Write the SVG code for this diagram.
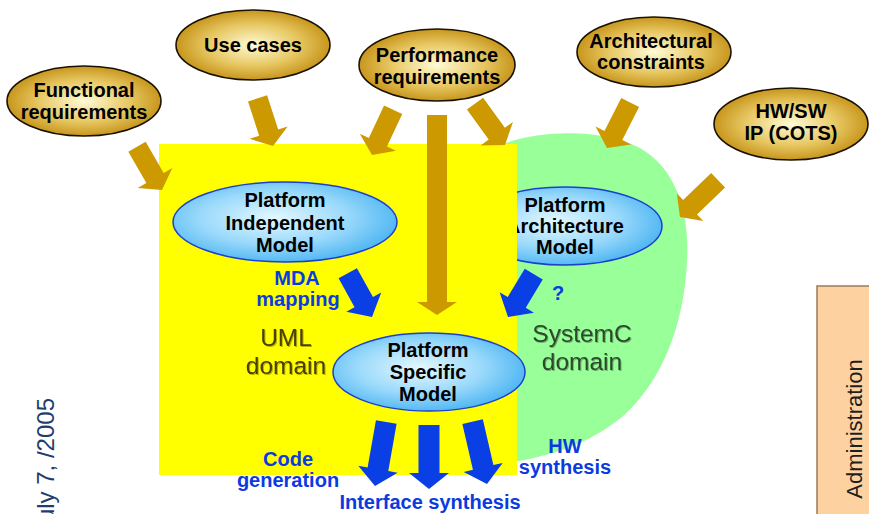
<svg xmlns="http://www.w3.org/2000/svg" width="869" height="514" viewBox="0 0 869 514">
  <defs>
    <radialGradient id="goldFill" cx="50%" cy="50%" r="55%">
      <stop offset="0" stop-color="#fffbd6"/>
      <stop offset="0.55" stop-color="#e6c660"/>
      <stop offset="1" stop-color="#c08a0c"/>
    </radialGradient>
    <radialGradient id="skyFill" cx="45%" cy="45%" r="55%">
      <stop offset="0" stop-color="#e4f8ff"/>
      <stop offset="0.6" stop-color="#9ad9fb"/>
      <stop offset="1" stop-color="#55b9f3"/>
    </radialGradient>
    <filter id="softShadow" x="-10%" y="-10%" width="120%" height="130%">
      <feDropShadow dx="1" dy="1" stdDeviation="0.6" flood-color="#000" flood-opacity="0.3"/>
    </filter>
  </defs>
  <style>
    .req { fill: url(#goldFill); stroke: #1a1200; stroke-width: 1.6; }
    .model { fill: url(#skyFill); stroke: #1c3fd0; stroke-width: 1.5; }
    .lbl { font-family: "Liberation Sans", Arial, sans-serif; font-weight: bold; font-size: 20px; text-anchor: middle; fill: #000; }
    .flow { font-family: "Liberation Sans", Arial, sans-serif; font-weight: bold; font-size: 20px; text-anchor: middle; fill: #0b3be0; }
    .dom { font-family: "Liberation Sans", Arial, sans-serif; font-size: 24.5px; text-anchor: middle; filter: url(#softShadow); }
    .tan { fill: #cc9900; }
    .blue { fill: #0a3fe6; }
  </style>

  <rect width="869" height="514" fill="#ffffff"/>

  <!-- SystemC domain region -->
  <g id="systemc-domain">
    <path d="M 500,145 C 540,130 600,128 640,148 C 675,168 690,210 687,262 C 684,325 662,382 622,417 C 587,445 550,457 500,464 Z" fill="#99ff99"/>
  </g>

  <!-- Platform Architecture Model (sits partly under the UML region) -->
  <g id="platform-architecture-model">
    <ellipse class="model" cx="565" cy="226" rx="97" ry="39"/>
    <text class="lbl" x="565" y="212">Platform<tspan x="565" dy="21">Architecture</tspan><tspan x="565" dy="21">Model</tspan></text>
  </g>

  <!-- UML domain region -->
  <g id="uml-domain">
    <rect x="159" y="144" width="358" height="331" fill="#ffff00"/>
  </g>

  <g id="domain-labels">
    <text class="dom" x="286" y="346" fill="#4a4000">UML<tspan x="286" dy="27.5">domain</tspan></text>
    <text class="dom" x="582" y="342" fill="#2c4a2c">SystemC<tspan x="582" dy="27.5">domain</tspan></text>
  </g>

  <g id="platform-independent-model">
    <ellipse class="model" cx="285" cy="222" rx="112" ry="40"/>
    <text class="lbl" x="285" y="207">Platform<tspan x="285" dy="22.5">Independent</tspan><tspan x="285" dy="22">Model</tspan></text>
  </g>

  <g id="platform-specific-model">
    <ellipse class="model" cx="429" cy="372" rx="96" ry="39"/>
    <text class="lbl" x="428" y="357">Platform<tspan x="428" dy="22">Specific</tspan><tspan x="428" dy="22">Model</tspan></text>
  </g>

  <!-- Block arrows: drawn pointing down with the tip at the origin, then placed -->
  <g id="connectors">
    <polygon class="tan" transform="translate(162,190) rotate(-30)" points="-10,-50 10,-50 10,-14 20,-14 0,0 -20,-14 -10,-14"/>
    <polygon class="tan" transform="translate(273,146) rotate(-18)" points="-10,-50 10,-50 10,-14 20,-14 0,0 -20,-14 -10,-14"/>
    <polygon class="tan" transform="translate(372,155) rotate(25)" points="-10,-50 10,-50 10,-14 20,-14 0,0 -20,-14 -10,-14"/>
    <polygon class="tan" transform="translate(437,315)" points="-10,-200 10,-200 10,-13 20,-13 0,0 -20,-13 -10,-13"/>
    <polygon class="tan" transform="translate(505,145) rotate(-36)" points="-10,-51 10,-51 10,-14 20,-14 0,0 -20,-14 -10,-14"/>
    <polygon class="tan" transform="translate(607,148) rotate(27)" points="-10,-51 10,-51 10,-14 20,-14 0,0 -20,-14 -10,-14"/>
    <polygon class="tan" transform="translate(680,217) rotate(46)" points="-10,-53 10,-53 10,-14 19,-14 0,0 -19,-14 -10,-14"/>

    <polygon class="blue" transform="translate(372,317) rotate(-29)" points="-10.5,-50 10.5,-50 10.5,-17 20,-17 0,0 -20,-17 -10.5,-17"/>
    <polygon class="blue" transform="translate(508,317) rotate(31)" points="-10.5,-50 10.5,-50 10.5,-17 20,-17 0,0 -20,-17 -10.5,-17"/>
    <polygon class="blue" transform="translate(375,486) rotate(10)" points="-10.5,-65 10.5,-65 10.5,-17 20,-17 0,0 -20,-17 -10.5,-17"/>
    <polygon class="blue" transform="translate(429,489)" points="-10.5,-64 10.5,-64 10.5,-16 20,-16 0,0 -20,-16 -10.5,-16"/>
    <polygon class="blue" transform="translate(487,484) rotate(-13)" points="-10.5,-64 10.5,-64 10.5,-17 20,-17 0,0 -20,-17 -10.5,-17"/>
  </g>

  <g id="functional-requirements">
    <ellipse class="req" cx="84" cy="101" rx="77" ry="35"/>
    <text class="lbl" x="84" y="97">Functional<tspan x="84" dy="22">requirements</tspan></text>
  </g>

  <g id="use-cases">
    <ellipse class="req" cx="253" cy="45" rx="77" ry="35"/>
    <text class="lbl" x="253" y="52">Use cases</text>
  </g>

  <g id="performance-requirements">
    <ellipse class="req" cx="437" cy="65" rx="78" ry="36"/>
    <text class="lbl" x="437" y="62">Performance<tspan x="437" dy="22">requirements</tspan></text>
  </g>

  <g id="architectural-constraints">
    <ellipse class="req" cx="654" cy="52" rx="77" ry="35"/>
    <text class="lbl" x="651" y="48">Architectural<tspan x="651" dy="21">constraints</tspan></text>
  </g>

  <g id="hw-sw-ip">
    <ellipse class="req" cx="791" cy="124" rx="77" ry="36"/>
    <text class="lbl" x="791" y="118">HW/SW<tspan x="791" dy="22">IP (COTS)</tspan></text>
  </g>

  <g id="flow-labels">
    <text class="flow" x="297" y="285">MDA<tspan x="298" dy="21">mapping</tspan></text>
    <text class="flow" x="558" y="300">?</text>
    <text class="flow" x="288" y="466">Code<tspan x="288" dy="21">generation</tspan></text>
    <text class="flow" x="565" y="453">HW<tspan x="565" dy="21">synthesis</tspan></text>
    <text class="flow" x="430" y="509">Interface synthesis</text>
  </g>

  <!-- Side tab -->
  <g id="administration">
    <rect x="817" y="286" width="70" height="250" fill="#fdd1a0" stroke="#9a7a5a" stroke-width="1.5"/>
    <text x="0" y="0" transform="translate(862,429) rotate(-90)" font-family="'Liberation Sans', Arial, sans-serif" font-size="22" text-anchor="middle" fill="#1e1e1e">Administration</text>
  </g>

  <!-- Footer date, running up the left edge -->
  <text x="0" y="0" transform="translate(54,398) rotate(-90)" font-family="'Liberation Sans', Arial, sans-serif" font-size="24" text-anchor="end" fill="#1f3d6e">uly 7, /2005</text>
</svg>
